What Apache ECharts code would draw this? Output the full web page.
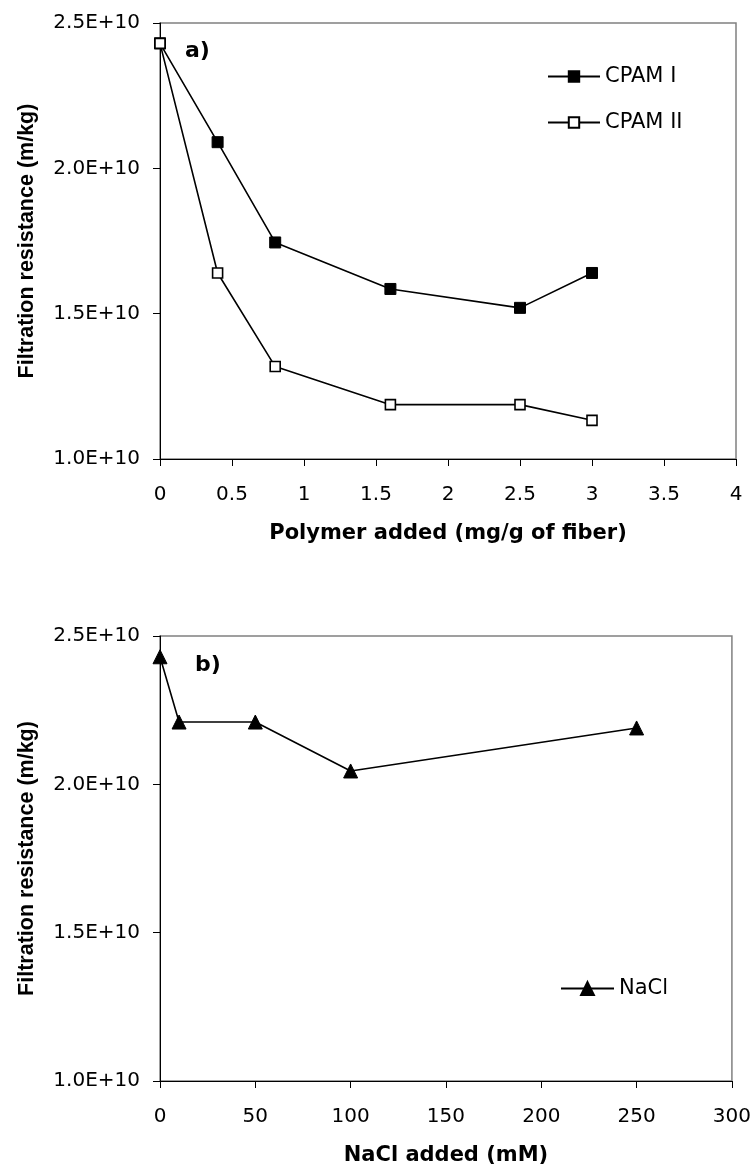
<!DOCTYPE html>
<html>
<head>
<meta charset="utf-8">
<script src="https://cdn.jsdelivr.net/npm/echarts@6/dist/echarts.min.js"></script>
<style>
html,body{margin:0;padding:0;background:#fff;}
#chart{width:754px;height:1171px;}
</style>
</head>
<body>
<div id="chart"></div>
<script>
// Panel a) data
const polymerX = [0, 0.4, 0.8, 1.6, 2.5, 3];
const cpamI = [2.43e10, 2.09e10, 1.745e10, 1.585e10, 1.52e10, 1.64e10];
const cpamII = [2.43e10, 1.64e10, 1.318e10, 1.187e10, 1.187e10, 1.133e10];
// Panel b) data
const naclX = [0, 10, 50, 100, 250];
const nacl = [2.43e10, 2.21e10, 2.21e10, 2.045e10, 2.19e10];
// Axis ticks
const yTicks = [1.0e10, 1.5e10, 2.0e10, 2.5e10];
const xTicksA = [0, 0.5, 1, 1.5, 2, 2.5, 3, 3.5, 4];
const xTicksB = [0, 50, 100, 150, 200, 250, 300];

const FONT = '"DejaVu Sans", "Liberation Sans", Arial, sans-serif';
const FONT_V = '"Liberation Sans", Arial, sans-serif';
const chart = echarts.init(document.getElementById('chart'), null, {renderer: 'canvas'});

function yAxisCfg(idx) {
  return {
    gridIndex: idx, type: 'value',
    min: yTicks[0], max: yTicks[yTicks.length - 1], interval: 0.5e10,
    name: 'Filtration resistance (m/kg)', nameLocation: 'middle', nameGap: 122,
    nameTextStyle: {fontFamily: FONT_V, fontWeight: 'bold', fontSize: 21.5, color: '#000'},
    axisLine: {show: true, lineStyle: {color: '#000', width: 1}},
    axisTick: {show: true, inside: false, length: 7, lineStyle: {color: '#000'}},
    axisLabel: {fontFamily: FONT, fontSize: 20, color: '#000', margin: 20,
      formatter: v => (v / 1e10).toFixed(1) + 'E+10'},
    splitLine: {show: false}
  };
}
function xAxisCfg(idx, ticks, name) {
  return {
    gridIndex: idx, type: 'value',
    min: ticks[0], max: ticks[ticks.length - 1], interval: ticks[1] - ticks[0],
    name: name, nameLocation: 'middle', nameGap: 64,
    nameTextStyle: {fontFamily: FONT, fontWeight: 'bold', fontSize: 21, color: '#000'},
    axisLine: {show: true, onZero: false, lineStyle: {color: '#000', width: 1}},
    axisTick: {show: true, inside: false, length: 7, lineStyle: {color: '#000'}},
    axisLabel: {fontFamily: FONT, fontSize: 20, color: '#000', margin: 26},
    splitLine: {show: false}
  };
}

const option = {
  backgroundColor: '#fff',
  animation: false,
  title: [
    {text: 'a)', left: 185, top: 40, padding: 0, textStyle: {fontFamily: FONT, fontWeight: 'bold', fontSize: 22, color: '#000'}},
    {text: 'b)', left: 195, top: 654, padding: 0, textStyle: {fontFamily: FONT, fontWeight: 'bold', fontSize: 22, color: '#000'}}
  ],
  grid: [
    {left: 160, right: 18, top: 23, height: 436, show: true, borderColor: '#808080', borderWidth: 1.5},
    {left: 160, right: 18, top: 636, height: 445, show: true, borderColor: '#808080', borderWidth: 1.5}
  ],
  legend: [
    {data: ['CPAM I', 'CPAM II'], orient: 'vertical', left: 547, top: 66, padding: 0,
      itemWidth: 52, itemHeight: 13, itemGap: 25,
      textStyle: {fontFamily: FONT, fontSize: 21, color: '#000'}},
    {data: ['NaCl'], orient: 'vertical', left: 560, top: 978, padding: 0,
      itemWidth: 53, itemHeight: 16,
      textStyle: {fontFamily: FONT, fontSize: 21, color: '#000'}}
  ],
  xAxis: [xAxisCfg(0, xTicksA, 'Polymer added (mg/g of fiber)'), xAxisCfg(1, xTicksB, 'NaCl added (mM)')],
  yAxis: [yAxisCfg(0), yAxisCfg(1)],
  series: [
    {name: 'CPAM I', type: 'line', xAxisIndex: 0, yAxisIndex: 0,
      data: polymerX.map((x, i) => [x, cpamI[i]]),
      symbol: 'rect', symbolSize: 11, showAllSymbol: true,
      lineStyle: {color: '#000', width: 1.6},
      itemStyle: {color: '#000', borderColor: '#000', borderWidth: 1}},
    {name: 'CPAM II', type: 'line', xAxisIndex: 0, yAxisIndex: 0,
      data: polymerX.map((x, i) => [x, cpamII[i]]),
      symbol: 'rect', symbolSize: 10, showAllSymbol: true, z: 3,
      lineStyle: {color: '#000', width: 1.6},
      itemStyle: {color: '#fff', borderColor: '#000', borderWidth: 1.6}},
    {name: 'NaCl', type: 'line', xAxisIndex: 1, yAxisIndex: 1,
      data: naclX.map((x, i) => [x, nacl[i]]),
      symbol: 'triangle', symbolSize: 14, showAllSymbol: true,
      lineStyle: {color: '#000', width: 1.6},
      itemStyle: {color: '#000', borderColor: '#000', borderWidth: 1}}
  ]
};
chart.setOption(option);
</script>
</body>
</html>
